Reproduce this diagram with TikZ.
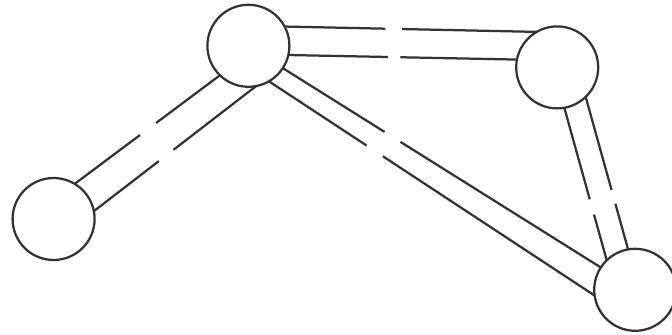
\documentclass[tikz,border=0pt]{standalone}
\usetikzlibrary{calc}

\tikzset{
  ring/.style={circle,draw,minimum size=2.05cm,inner sep=0pt,outer sep=0pt},
  rail/.style 2 args={to path={(\tikztostart) -- ($(\tikztostart)!#1!(\tikztotarget)$)
    ($(\tikztostart)!#2!(\tikztotarget)$) -- (\tikztotarget)}}
}

\begin{document}
\begin{tikzpicture}[line width=1.6pt,color=black!80]
  \useasboundingbox (0,0) rectangle (16.8,8.375);
  \node[ring] (L)  at (1.34,2.90)  {};
  \node[ring] (T)  at (6.21,7.23)  {};
  \node[ring] (RT) at (13.93,6.69) {};
  \node[ring] (BR) at (15.88,1.13) {};
  % broken double lines
  \draw (L.59)   to[rail={0.45}{0.56}]  (T.226);
  \draw (L.11)   to[rail={0.40}{0.49}]  (T.281);
  \draw (T.28)   to[rail={0.40}{0.465}] (RT.120);
  \draw (T.347)  to[rail={0.435}{0.49}] (RT.169);
  \draw (T.327)  to[rail={0.32}{0.37}]  (BR.147);
  \draw (T.300)  to[rail={0.30}{0.35}]  (BR.188);
  \draw (RT.280) to[rail={0.60}{0.70}]  (BR.134);
  \draw (RT.314) to[rail={0.61}{0.70}]  (BR.100);
\end{tikzpicture}
\end{document}
